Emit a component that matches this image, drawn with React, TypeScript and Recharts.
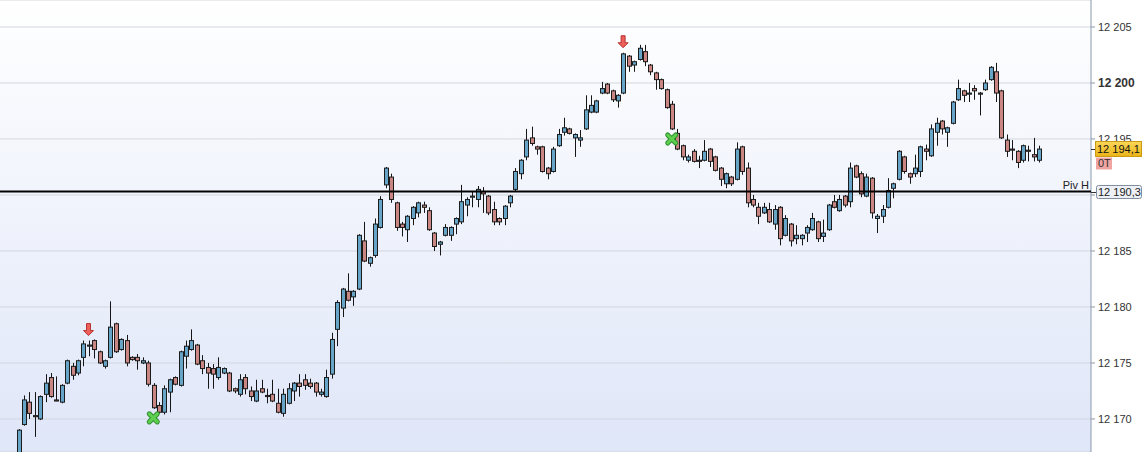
import React from "react";
import {
  ComposedChart,
  Bar,
  XAxis,
  YAxis,
  CartesianGrid,
  ReferenceLine,
  ReferenceDot,
} from "recharts";

const opens = [
  12166.6, 12169.5, 12171.5, 12170.3, 12170.0, 12172.2, 12173.7, 12171.7, 12171.5, 12173.2,
  12174.7, 12174.1, 12175.5, 12176.5, 12177.0, 12176.0, 12174.7, 12175.5, 12178.5, 12176.2,
  12177.0, 12175.5, 12175.5, 12175.0, 12175.0, 12173.0, 12171.2, 12170.6, 12172.4, 12173.7,
  12173.0, 12175.6, 12176.2, 12176.6, 12175.2, 12174.6, 12174.5, 12173.7, 12174.1, 12174.1,
  12172.7, 12172.2, 12173.7, 12172.5, 12171.6, 12172.7, 12172.1, 12172.2, 12171.4, 12170.5,
  12171.4, 12172.5, 12173.2, 12173.5, 12173.2, 12173.2, 12172.2, 12172.0, 12174.0, 12178.0,
  12179.9, 12181.4, 12180.9, 12181.6, 12185.9, 12183.9, 12184.6, 12187.1, 12190.9, 12191.6,
  12189.3, 12187.4, 12186.9, 12187.9, 12188.4, 12189.1, 12188.6, 12186.6, 12185.6, 12186.4,
  12186.4, 12187.4, 12187.6, 12189.1, 12189.8, 12189.6, 12190.3, 12189.9, 12188.7, 12187.9,
  12187.9, 12189.3, 12190.5, 12191.9, 12193.4, 12195.1, 12194.3, 12194.3, 12192.4, 12192.1,
  12194.4, 12195.6, 12195.9, 12195.1, 12194.9, 12195.9, 12197.4, 12197.4, 12199.1, 12199.9,
  12199.3, 12198.4, 12199.1, 12202.4, 12201.6, 12202.1, 12202.8, 12201.6, 12200.9, 12200.3,
  12199.4, 12198.1, 12195.5, 12194.4, 12193.1, 12193.9, 12193.1, 12193.1, 12194.1, 12193.4,
  12192.4, 12191.0, 12191.6, 12191.4, 12194.3, 12192.4, 12189.6, 12188.9, 12188.4, 12188.7,
  12187.4, 12188.9, 12186.4, 12187.4, 12186.1, 12186.1, 12186.6, 12186.9, 12187.6, 12186.3,
  12186.9, 12189.4, 12188.6, 12189.9, 12189.4, 12192.6, 12191.9, 12189.9, 12191.5, 12187.9,
  12188.1, 12188.9, 12190.6, 12191.4, 12193.4, 12191.9, 12191.9, 12192.1, 12194.1, 12193.5,
  12195.6, 12196.6, 12195.6, 12196.4, 12198.5, 12199.3, 12199.0, 12199.5, 12199.1, 12199.4,
  12200.3, 12201.0, 12199.3, 12194.9, 12194.1, 12193.9, 12193.1, 12194.0, 12193.6, 12193.1,
];

const highs = [
  12169.1, 12172.1, 12172.4, 12172.4, 12172.1, 12174.0, 12174.1, 12173.8, 12173.1, 12175.3,
  12175.0, 12175.3, 12177.0, 12177.0, 12177.1, 12176.1, 12175.3, 12180.5, 12178.6, 12177.2,
  12177.5, 12175.6, 12175.8, 12175.5, 12175.2, 12173.2, 12171.5, 12173.0, 12173.6, 12173.8,
  12176.1, 12177.0, 12178.0, 12176.7, 12175.7, 12175.0, 12174.9, 12175.5, 12174.6, 12174.2,
  12172.8, 12174.0, 12174.0, 12172.9, 12173.5, 12173.5, 12172.7, 12173.5, 12172.7, 12172.7,
  12173.2, 12173.3, 12174.0, 12174.0, 12173.6, 12173.3, 12172.7, 12174.4, 12177.7, 12180.6,
  12181.7, 12183.0, 12181.5, 12186.5, 12187.6, 12184.5, 12187.9, 12189.9, 12192.5, 12191.9,
  12189.4, 12187.6, 12188.2, 12189.0, 12189.4, 12189.4, 12188.9, 12186.7, 12185.9, 12187.4,
  12187.2, 12188.0, 12190.9, 12189.8, 12190.3, 12190.8, 12190.7, 12190.0, 12189.4, 12188.0,
  12189.1, 12190.0, 12192.4, 12193.2, 12195.9, 12196.1, 12194.4, 12194.4, 12192.5, 12194.3,
  12195.9, 12196.9, 12196.0, 12195.5, 12195.8, 12198.9, 12198.9, 12198.5, 12200.1, 12200.0,
  12199.4, 12199.0, 12202.7, 12202.5, 12202.0, 12203.4, 12203.4, 12201.7, 12201.0, 12200.4,
  12199.5, 12198.4, 12195.9, 12194.5, 12193.6, 12194.1, 12193.5, 12194.9, 12194.2, 12193.5,
  12192.5, 12192.0, 12191.7, 12194.7, 12194.4, 12192.9, 12190.0, 12189.3, 12189.3, 12189.3,
  12189.1, 12189.0, 12188.2, 12187.5, 12187.3, 12186.5, 12187.3, 12188.4, 12187.7, 12187.8,
  12189.2, 12190.0, 12190.0, 12190.0, 12192.9, 12192.7, 12192.1, 12191.9, 12191.6, 12188.3,
  12189.1, 12191.5, 12191.1, 12194.0, 12193.5, 12192.0, 12193.6, 12194.4, 12194.5, 12196.3,
  12196.9, 12196.7, 12196.1, 12198.4, 12200.3, 12199.4, 12200.0, 12199.8, 12199.2, 12200.3,
  12201.5, 12201.8, 12199.4, 12195.4, 12194.9, 12194.0, 12194.5, 12194.4, 12195.1, 12194.4,
];

const lows = [
  12166.3, 12169.4, 12170.0, 12168.4, 12169.9, 12171.5, 12171.9, 12171.6, 12171.4, 12173.1,
  12173.5, 12173.9, 12174.7, 12175.6, 12175.4, 12174.9, 12174.5, 12175.4, 12175.9, 12176.1,
  12174.7, 12175.2, 12174.4, 12174.9, 12172.9, 12170.9, 12170.5, 12170.4, 12170.6, 12173.0,
  12172.9, 12174.5, 12176.1, 12174.8, 12174.0, 12172.7, 12172.7, 12173.5, 12174.0, 12172.4,
  12172.3, 12172.0, 12172.2, 12171.6, 12171.5, 12172.3, 12171.4, 12171.5, 12170.5, 12170.2,
  12171.3, 12171.6, 12172.0, 12172.6, 12172.7, 12172.0, 12172.0, 12171.9, 12173.6, 12176.5,
  12179.1, 12180.5, 12180.1, 12181.5, 12184.0, 12183.6, 12184.4, 12187.0, 12190.6, 12189.3,
  12186.8, 12186.3, 12185.8, 12187.3, 12188.0, 12188.4, 12186.8, 12185.0, 12184.6, 12186.3,
  12185.9, 12186.5, 12187.4, 12188.1, 12188.9, 12188.9, 12188.4, 12188.2, 12187.3, 12187.3,
  12187.3, 12188.9, 12190.3, 12191.4, 12193.1, 12194.4, 12193.6, 12192.0, 12191.4, 12192.0,
  12194.3, 12195.3, 12195.4, 12193.4, 12194.3, 12195.8, 12197.3, 12197.3, 12199.0, 12199.0,
  12198.3, 12197.8, 12199.0, 12201.0, 12201.0, 12202.0, 12201.5, 12200.7, 12199.4, 12199.4,
  12197.7, 12195.8, 12194.0, 12193.1, 12192.9, 12192.9, 12192.4, 12193.0, 12192.5, 12192.1,
  12190.8, 12190.6, 12190.8, 12191.3, 12191.8, 12188.9, 12188.9, 12187.4, 12188.3, 12187.5,
  12186.9, 12185.5, 12186.3, 12185.4, 12185.6, 12185.5, 12185.8, 12186.8, 12185.8, 12185.8,
  12186.8, 12188.8, 12188.5, 12188.9, 12188.9, 12191.5, 12189.8, 12189.8, 12187.9, 12186.6,
  12187.5, 12188.8, 12189.7, 12191.3, 12191.9, 12191.0, 12191.6, 12191.6, 12193.1, 12193.4,
  12194.4, 12195.4, 12194.3, 12196.3, 12198.4, 12198.3, 12198.3, 12198.5, 12197.1, 12199.3,
  12200.2, 12198.3, 12195.0, 12193.4, 12193.1, 12192.4, 12192.9, 12193.0, 12193.0, 12192.9,
];

const closes = [
  12169.0, 12171.7, 12170.5, 12170.2, 12172.0, 12173.2, 12172.0, 12171.6, 12173.0, 12175.2,
  12173.9, 12175.2, 12176.7, 12176.6, 12176.2, 12175.0, 12175.2, 12178.2, 12176.0, 12177.1,
  12175.0, 12175.3, 12175.2, 12175.2, 12173.1, 12171.0, 12170.6, 12172.7, 12173.5, 12173.1,
  12176.0, 12176.5, 12177.0, 12174.9, 12174.5, 12174.1, 12174.0, 12174.6, 12174.5, 12172.5,
  12172.5, 12173.5, 12172.7, 12172.0, 12172.5, 12172.4, 12172.0, 12171.6, 12170.6, 12172.2,
  12172.7, 12173.2, 12172.9, 12173.0, 12172.9, 12172.4, 12172.4, 12173.7, 12177.1, 12180.4,
  12181.6, 12180.6, 12181.4, 12186.4, 12184.1, 12184.4, 12187.4, 12189.6, 12192.4, 12189.6,
  12187.1, 12187.1, 12188.1, 12188.9, 12189.3, 12188.9, 12186.9, 12185.4, 12185.8, 12187.1,
  12187.1, 12187.9, 12189.4, 12189.6, 12189.9, 12190.5, 12190.1, 12188.4, 12187.6, 12187.6,
  12189.0, 12189.9, 12192.1, 12193.1, 12194.9, 12194.6, 12194.1, 12192.1, 12191.9, 12194.1,
  12195.4, 12196.0, 12195.5, 12195.4, 12195.1, 12197.6, 12198.0, 12198.4, 12199.5, 12199.1,
  12198.5, 12198.9, 12202.6, 12201.5, 12201.9, 12203.1, 12201.9, 12201.0, 12200.3, 12199.5,
  12197.8, 12195.9, 12194.1, 12193.4, 12193.4, 12193.0, 12193.0, 12193.9, 12193.0, 12192.2,
  12191.4, 12191.9, 12191.0, 12194.1, 12192.1, 12189.3, 12189.1, 12188.1, 12188.9, 12187.6,
  12188.7, 12186.1, 12187.9, 12185.9, 12186.4, 12186.4, 12187.1, 12187.9, 12186.1, 12186.6,
  12189.1, 12188.9, 12189.6, 12189.1, 12192.4, 12191.6, 12190.1, 12191.6, 12188.4, 12188.1,
  12188.7, 12190.4, 12191.0, 12193.9, 12192.1, 12191.6, 12192.4, 12194.3, 12193.9, 12195.9,
  12196.4, 12195.9, 12196.0, 12198.3, 12199.5, 12198.9, 12199.1, 12199.3, 12199.0, 12200.0,
  12201.4, 12199.1, 12195.1, 12193.9, 12194.0, 12192.9, 12194.4, 12193.9, 12193.4, 12194.1,
];

const priceTicks = [12170, 12175, 12180, 12185, 12190, 12195, 12200, 12205];
const pivotHigh = 12190.3;
const sellSignals = [13, 112];
const buySignals = [25, 121];

const data = opens.map((o, i) => ({
  i,
  o,
  h: highs[i],
  l: lows[i],
  c: closes[i],
  range: [lows[i], highs[i]],
}));

const lastClose = closes[closes.length - 1];
const font = '"Liberation Sans", Arial, sans-serif';
const yDomain = [12167.05, 12207.41];
const xPadding = { left: 15.6, right: 49.4 };
const chartMargin = { top: 0, right: 0, bottom: 0, left: 0 };

const fmt = (v: number, dec = 0) => {
  const [int, frac] = v.toFixed(dec).split(".");
  const s = `${int.slice(0, int.length - 3)} ${int.slice(-3)}`;
  return frac ? `${s},${frac}` : s;
};

const Candle = (props: any) => {
  const { x, y, width, height, payload } = props;
  if (!payload) return null;
  const top = Math.min(y, y + height);
  const h = Math.abs(height);
  const k = h / (payload.h - payload.l || 1);
  const cx = Math.round(x + width / 2) + 0.5;
  const bTop = top + (payload.h - Math.max(payload.o, payload.c)) * k;
  const bBot = top + (payload.h - Math.min(payload.o, payload.c)) * k;
  const up = payload.c >= payload.o;
  return (
    <g>
      <line x1={cx} x2={cx} y1={top} y2={top + h} stroke="#151515" strokeWidth={1} />
      <rect
        x={cx - 2}
        y={bTop}
        width={4}
        height={Math.max(bBot - bTop, 1)}
        fill={up ? "#66a5c8" : "#c98683"}
        stroke="#1b1b1b"
        strokeWidth={1}
      />
    </g>
  );
};

const PriceTick = (props: any) => {
  const { x, y, payload } = props;
  // the pivot box on the axis covers this label, as in the terminal
  if (Math.abs(payload.value - pivotHigh) < 1) return null;
  const bold = payload.value === 12200;
  return (
    <text
      x={x}
      y={y}
      dy="0.36em"
      fontFamily={font}
      fontSize={bold ? 12 : 11}
      fontWeight={bold ? 700 : 400}
      fill="#333"
    >
      {fmt(payload.value)}
    </text>
  );
};

const SellArrow = (props: any) => {
  const { cx, cy } = props;
  const t = cy - 5;
  const pts = [
    [cx, t],
    [cx - 5, t - 5],
    [cx - 2, t - 5],
    [cx - 2, t - 12],
    [cx + 2, t - 12],
    [cx + 2, t - 5],
    [cx + 5, t - 5],
  ]
    .map((p) => p.join(","))
    .join(" ");
  return <polygon points={pts} fill="#ec5f5a" stroke="#b8322f" strokeWidth={1} />;
};

const BuyCross = (props: any) => {
  const { cx, cy } = props;
  const c = cy + 9;
  const d = 4;
  return (
    <g strokeLinecap="round">
      <line x1={cx - d} y1={c - d} x2={cx + d} y2={c + d} stroke="#2f8f2f" strokeWidth={5} />
      <line x1={cx - d} y1={c + d} x2={cx + d} y2={c - d} stroke="#2f8f2f" strokeWidth={5} />
      <line x1={cx - d} y1={c - d} x2={cx + d} y2={c + d} stroke="#5fcf4f" strokeWidth={3} />
      <line x1={cx - d} y1={c + d} x2={cx + d} y2={c - d} stroke="#5fcf4f" strokeWidth={3} />
    </g>
  );
};

const LastPriceLabel = (props: any) => {
  const { viewBox } = props;
  if (!viewBox) return null;
  const ax = viewBox.x + viewBox.width;
  const y = Math.round(viewBox.y) + 0.5;
  return (
    <g>
      <defs>
        <linearGradient id="goldBox" x1="0" y1="0" x2="0" y2="1">
          <stop offset="0%" stopColor="#fbd75a" />
          <stop offset="100%" stopColor="#eab317" />
        </linearGradient>
      </defs>
      <line x1={ax} x2={ax + 5} y1={y} y2={y} stroke="#333" />
      <rect x={ax + 4.5} y={y - 8} width={46} height={15} fill="url(#goldBox)" stroke="#c99a12" />
      <text x={ax + 6} y={y} dy="0.36em" fontFamily={font} fontSize={11} fill="#111">
        {fmt(lastClose, 1)}
      </text>
      <rect x={ax + 5} y={y + 8} width={16} height={12} fill="#f0a5a3" />
      <text x={ax + 7} y={y + 14} dy="0.36em" fontFamily={font} fontSize={11} fill="#333">
        0T
      </text>
    </g>
  );
};

const PivotLabel = (props: any) => {
  const { viewBox } = props;
  if (!viewBox) return null;
  const ax = viewBox.x + viewBox.width;
  const y = Math.round(viewBox.y) + 0.5;
  return (
    <g>
      <text x={ax - 2} y={y - 4} textAnchor="end" fontFamily={font} fontSize={11} fill="#222">
        Piv H
      </text>
      <line x1={ax} x2={ax + 5} y1={y} y2={y} stroke="#333" />
      <rect x={ax + 5.5} y={y - 7} width={45} height={13} rx={2} fill="#edf1f7" stroke="#7f8ea3" />
      <text x={ax + 7} y={y} dy="0.36em" fontFamily={font} fontSize={11} fill="#222">
        {fmt(pivotHigh, 1)}
      </text>
    </g>
  );
};

export default function App() {
  return (
    <div style={{ position: "relative", width: 1142, height: 452, overflow: "hidden" }}>
      <style>{"body{margin:0;}"}</style>
      <div
        style={{
          position: "absolute",
          left: 0,
          top: 0,
          width: 1091,
          height: 452,
          background: "linear-gradient(to bottom, #ffffff 0%, #dfe6f8 100%)",
        }}
      />
      <div style={{ position: "absolute", left: 0, top: 0 }}>
        <ComposedChart width={1142} height={452} data={data} margin={chartMargin} barSize={4}>
          <CartesianGrid vertical={false} stroke="#d2d6de" />
          <XAxis dataKey="i" type="category" hide padding={xPadding} />
          <YAxis
            orientation="right"
            width={51}
            domain={yDomain}
            allowDataOverflow
            ticks={priceTicks}
            interval={0}
            tickSize={4}
            tickMargin={3}
            axisLine={{ stroke: "#8b99ab" }}
            tickLine={{ stroke: "#8b99ab" }}
            tick={<PriceTick />}
          />
          <Bar dataKey="range" shape={<Candle />} isAnimationActive={false} />
          {sellSignals.map((i) => (
            <ReferenceDot
              key={`s${i}`}
              x={i}
              y={highs[i]}
              r={0}
              shape={(p: any) => <SellArrow {...p} />}
            />
          ))}
          {buySignals.map((i) => (
            <ReferenceDot
              key={`b${i}`}
              x={i}
              y={lows[i]}
              r={0}
              shape={(p: any) => <BuyCross {...p} />}
            />
          ))}
        </ComposedChart>
      </div>
      {/* second layer so the price boxes sit above the axis labels */}
      <div style={{ position: "absolute", left: 0, top: 0 }}>
        <ComposedChart width={1142} height={452} data={data} margin={chartMargin}>
          <XAxis dataKey="i" type="category" hide padding={xPadding} />
          <YAxis
            orientation="right"
            width={51}
            domain={yDomain}
            allowDataOverflow
            ticks={priceTicks}
            tick={false}
            axisLine={false}
            tickLine={false}
          />
          <ReferenceLine y={pivotHigh} stroke="#000" strokeWidth={2} label={<PivotLabel />} />
          <ReferenceLine y={lastClose} stroke="none" label={<LastPriceLabel />} />
        </ComposedChart>
      </div>
    </div>
  );
}
